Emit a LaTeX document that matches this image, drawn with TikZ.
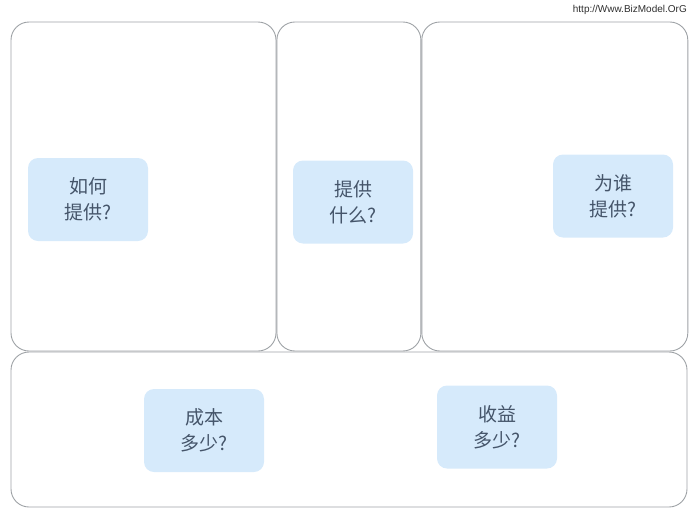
\documentclass[tikz,border=0pt]{standalone}
\usepackage{fontspec}
\setmainfont{Liberation Serif}
\newfontfamily\cjk{Noto Sans CJK SC}
\newfontfamily\urlfont{Liberation Sans}
\usetikzlibrary{positioning}
\definecolor{BMLine}{HTML}{9EA2A6}
\definecolor{BMFill}{HTML}{D6EAFB}
\definecolor{BMText}{HTML}{45556A}
\definecolor{BMGray}{HTML}{2E2E2E}

\begin{document}
\begin{tikzpicture}[
    x=1pt,y=-1pt,
    panel/.style={draw=BMLine, line width=0.9pt, rounded corners=18pt,
      inner sep=0pt, minimum height=329pt},
    ask/.style={fill=BMFill, rounded corners=10pt, minimum width=120pt,
      minimum height=83pt, inner sep=0pt, align=center, text=BMText,
      font=\cjk\fontsize{19}{26}\selectfont}
  ]
    \useasboundingbox (0,0) rectangle (693,517);

    % three upper panels
    \node[panel, minimum width=265pt] (how) at (143.5,186.5) {};
    \node[panel, minimum width=144pt, right=0pt of how] (what) {};
    \node[panel, minimum width=266pt, right=0pt of what] (whom) {};

    % lower panel
    \node[panel, minimum width=676pt, minimum height=155pt] (money) at (349,429.5) {};

    \node[ask] (howq) at (88,199.5) {如何\\提供?};
    \node[ask] (whatq) at (353,202) {提供\\什么?};
    \node[ask] (whomq) at (613,196) {为谁\\提供?};
    \node[ask] (costq) at (204,430.5) {成本\\多少?};
    \node[ask] (gainq) at (497,427) {收益\\多少?};

    \node[anchor=east, inner sep=0pt, text=BMGray,
      font=\urlfont\fontsize{10}{12}\selectfont] (src) at (687,10)
      {http://Www.BizModel.OrG};
  \end{tikzpicture}
\end{document}
